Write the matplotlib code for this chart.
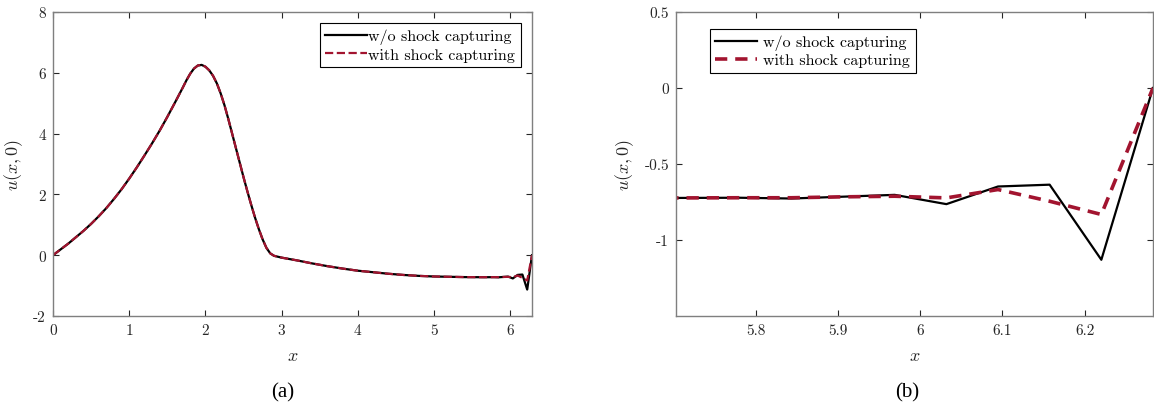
# Initial condition u(x,0): with and without shock capturing
import numpy as np
import matplotlib.pyplot as plt

plt.rcParams['font.family'] = ['cmr10', 'DejaVu Serif']
plt.rcParams['mathtext.fontset'] = 'cm'
plt.rcParams['axes.unicode_minus'] = False

# Data ........................................................................
# smooth part, identical for both runs
x_head = [0.0, 0.1, 0.2, 0.3, 0.4, 0.5, 0.6, 0.7, 0.8, 0.9, 1.0, 1.1, 1.2,
          1.3, 1.4, 1.5, 1.6, 1.7, 1.75, 1.8, 1.85, 1.9, 1.95, 2.0, 2.05,
          2.1, 2.15, 2.2, 2.25, 2.3, 2.35, 2.4, 2.45, 2.5, 2.55, 2.6, 2.65,
          2.7, 2.75, 2.8, 2.85, 2.9, 2.95, 3.0, 3.2, 3.4, 3.6, 3.8, 4.0, 4.2,
          4.4, 4.6, 4.8, 5.0, 5.2, 5.4, 5.6549]
u_head = [0.00, 0.19, 0.38, 0.59, 0.80, 1.03, 1.28, 1.55, 1.85, 2.17, 2.52,
          2.89, 3.28, 3.68, 4.10, 4.55, 5.02, 5.50, 5.75, 5.97, 6.14, 6.24,
          6.26, 6.20, 6.08, 5.90, 5.65, 5.32, 4.93, 4.48, 4.00, 3.52, 3.04,
          2.56, 2.10, 1.66, 1.24, 0.86, 0.52, 0.24, 0.06, -0.02, -0.05,
          -0.08, -0.17, -0.27, -0.36, -0.44, -0.51, -0.56, -0.61, -0.65,
          -0.68, -0.70, -0.71, -0.72, -0.724]

# last grid points near x = 2*pi
x_tail = [5.7177, 5.7805, 5.8434, 5.9062, 5.9690, 6.0319, 6.0947, 6.1575,
          6.2204, 6.2832]
u_plain = [-0.723, -0.722, -0.727, -0.715, -0.703, -0.764, -0.648, -0.636,
           -1.13, 0.0]
u_shock = [-0.723, -0.722, -0.722, -0.716, -0.712, -0.723, -0.668, -0.745,
           -0.832, 0.0]

x_all = x_head + x_tail
u_w = u_head + u_plain
u_s = u_head + u_shock

red = '#A2142F'
gray = '#7f7f7f'
label_plain = 'w/o shock capturing'
label_shock = 'with shock capturing'


def style_axes(ax):
    for s in ax.spines.values():
        s.set_color(gray)
        s.set_linewidth(1.0)
    ax.tick_params(direction='in', length=4, width=0.8, color='#262626',
                   labelcolor='#262626', labelsize=11, top=True, right=True,
                   pad=5)


fig = plt.figure(figsize=(11.54, 4.10), dpi=100)

# (a) full domain ..............................................................
ax1 = fig.add_axes([0.0459, 0.2268, 0.4151, 0.7415])
ax1.plot(x_all, u_w, color='black', linewidth=1.6, label=label_plain)
ax1.plot(x_all, u_s, color=red, linewidth=1.6, linestyle='--',
         label=label_shock)
ax1.set_xlim(0, 6.2832)
ax1.set_ylim(-2, 8)
ax1.set_xticks([0, 1, 2, 3, 4, 5, 6])
ax1.set_xticklabels(['0', '1', '2', '3', '4', '5', '6'])
ax1.set_yticks([-2, 0, 2, 4, 6, 8])
ax1.set_yticklabels(['-2', '0', '2', '4', '6', '8'])
ax1.set_xlabel('$x$', fontsize=13, color='#262626')
ax1.set_ylabel('$u(x,0)$', fontsize=13, color='#262626')
ax1.xaxis.set_label_coords(0.5, -0.105)
ax1.yaxis.set_label_coords(-0.058, 0.5)
style_axes(ax1)
leg1 = ax1.legend(loc='upper right', fontsize=11.5, fancybox=False,
                  edgecolor='black', framealpha=1, borderaxespad=0.7,
                  handlelength=2.6, handletextpad=0.1, labelspacing=0.2,
                  borderpad=0.35)
leg1.get_frame().set_linewidth(0.8)

# (b) zoom near the right boundary .............................................
ax2 = fig.add_axes([0.5858, 0.2268, 0.4133, 0.7415])
ax2.plot(x_all, u_w, color='black', linewidth=1.6, label=label_plain)
ax2.plot(x_all, u_s, color=red, linewidth=2.6, linestyle=(0, (3.4, 2.2)),
         label=label_shock)
ax2.set_xlim(5.703, 6.2832)
ax2.set_ylim(-1.5, 0.5)
ax2.set_xticks([5.8, 5.9, 6.0, 6.1, 6.2])
ax2.set_xticklabels(['5.8', '5.9', '6', '6.1', '6.2'])
ax2.set_yticks([-1, -0.5, 0, 0.5])
ax2.set_yticklabels(['-1', '-0.5', '0', '0.5'])
ax2.set_xlabel('$x$', fontsize=13, color='#262626')
ax2.set_ylabel('$u(x,0)$', fontsize=13, color='#262626')
ax2.xaxis.set_label_coords(0.5, -0.105)
ax2.yaxis.set_label_coords(-0.083, 0.5)
style_axes(ax2)
leg2 = ax2.legend(loc='upper left', bbox_to_anchor=(0.071, 0.944),
                  borderaxespad=0, fontsize=11.5, fancybox=False,
                  edgecolor='black', framealpha=1, handlelength=2.6,
                  handletextpad=0.4, labelspacing=0.2, borderpad=0.35)
leg2.get_frame().set_linewidth(0.8)

# captions
fig.text(283 / 1154, 1 - 393 / 410, '(a)', ha='center', va='center',
         fontsize=15, family='Liberation Serif')
fig.text(907 / 1154, 1 - 393 / 410, '(b)', ha='center', va='center',
         fontsize=15, family='Liberation Serif')

fig.savefig('out.png', dpi=100)
